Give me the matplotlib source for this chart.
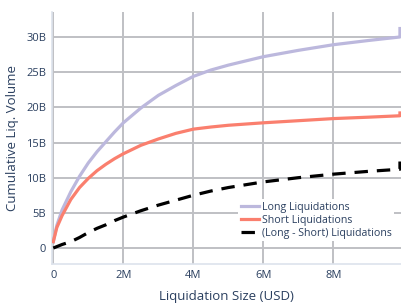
import matplotlib
matplotlib.use("Agg")
import matplotlib.pyplot as plt

# liquidation size in millions of USD, volumes in billions
size_m = [0, 0.1, 0.25, 0.5, 0.75, 1.0, 1.25, 1.5, 1.75, 2, 2.5, 3, 3.5, 4, 4.5, 5, 6, 7, 8, 9, 9.9, 9.9]
long_b = [0.9, 3.2, 5.4, 8.0, 10.2, 12.1, 13.7, 15.1, 16.5, 17.8, 19.9, 21.7, 23.1, 24.4, 25.3, 26.0, 27.2, 28.1, 28.9, 29.5, 30.0, 31.2]
short_b = [0.9, 2.9, 4.6, 6.9, 8.6, 9.9, 11.0, 11.9, 12.7, 13.4, 14.6, 15.5, 16.3, 16.9, 17.2, 17.45, 17.8, 18.1, 18.4, 18.6, 18.8, 19.2]
diff_b = [0, 0.2, 0.5, 0.9, 1.5, 2.2, 2.8, 3.3, 3.9, 4.4, 5.3, 6.1, 6.8, 7.5, 8.1, 8.6, 9.4, 10.0, 10.5, 10.9, 11.2, 12.3]

xticks = [0, 2, 4, 6, 8]
xlabels = ["0", "2M", "4M", "6M", "8M"]
yticks = [0, 5, 10, 15, 20, 25, 30]
ylabels = ["0", "5B", "10B", "15B", "20B", "25B", "30B"]

txt = "#2a3f5f"
plt.rcParams["font.family"] = ["Open Sans", "DejaVu Sans"]

fig = plt.figure(figsize=(4.01, 3.03), dpi=100)
ax = fig.add_axes([0.1294, 0.1287, 0.8706, 0.8317])

ax.plot(size_m, long_b, color="#bcb8dd", lw=2.3, label="Long Liquidations", zorder=3)
ax.plot(size_m, short_b, color="#fa7f6e", lw=2.3, label="Short Liquidations", zorder=3)
ax.plot(size_m, diff_b, color="black", lw=2.3, dashes=(4.2, 2.8),
        label="(Long - Short) Liquidations", zorder=3)

ax.set_xlim(-0.04, 9.93)
ax.set_ylim(-2.27, 33.55)
ax.set_xticks(xticks, xlabels)
ax.set_yticks(yticks, ylabels)
ax.grid(True, color="#bfc0c4", lw=1.4)
ax.set_axisbelow(True)
ax.tick_params(length=0, labelsize=8, labelcolor=txt, pad=4)

for s in ["top", "right"]:
    ax.spines[s].set_visible(False)
for s in ["left", "bottom"]:
    ax.spines[s].set_color("#dde3ec")
    ax.spines[s].set_linewidth(1.2)

ax.set_xlabel("Liquidation Size (USD)", fontsize=9.5, color=txt, labelpad=7)
ax.set_ylabel("Cumulative Liq. Volume", fontsize=9.5, color=txt, labelpad=5)

leg = ax.legend(loc="lower right", bbox_to_anchor=(0.995, 0.07), fontsize=7.7, frameon=True,
                fancybox=False, edgecolor="none", framealpha=1, handlelength=1.7,
                handletextpad=0.3, labelspacing=0.2, borderpad=0.2)
for t in leg.get_texts():
    t.set_color(txt)

fig.savefig("out.png", dpi=100)
